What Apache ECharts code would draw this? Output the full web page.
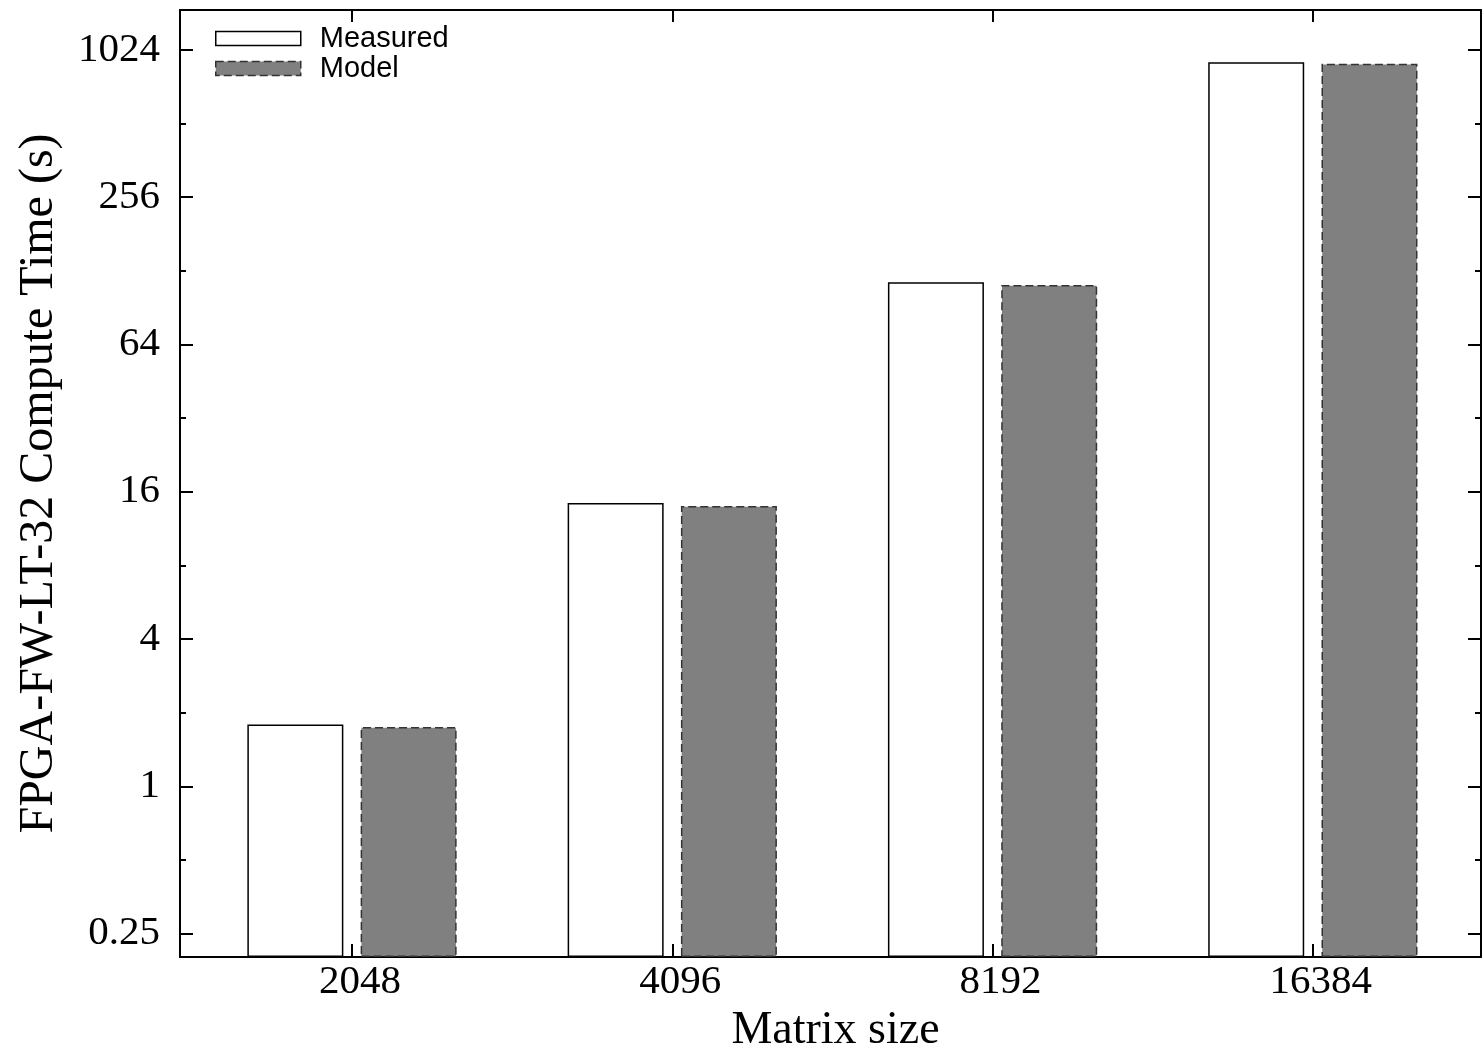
<!DOCTYPE html>
<html><head><meta charset="utf-8">
<script src="https://cdn.jsdelivr.net/npm/echarts@6/dist/echarts.min.js"></script>
<style>html,body{margin:0;padding:0;background:#fff}#c{width:1482px;height:1047px}</style>
</head><body><div id="c"></div>
<script>
const categories = ['2048', '4096', '8192', '16384'];
const measured = [1.79, 14.4, 114.8, 911];
const model = [1.75, 14.0, 111.9, 897];
const yTickLabels = [0.25, 1, 4, 16, 64, 256, 1024];
const yMinorTicks = [0.5, 2, 8, 32, 128, 512];
const xTicks = [0, 1, 2, 3];

const Y_MIN = 0.2007, Y_MAX = 1489;
const serif = 'Liberation Serif';
const black = '#000';

const measuredStyle = { color: '#fff', borderColor: black, borderWidth: 1.5 };
const modelStyle = { color: '#808080', borderColor: '#333', borderWidth: 1.5, borderType: [8, 4] };

function yAxisDef(pos, ticks, len, withLabels) {
  const a = {
    type: 'log', logBase: 2, position: pos, min: Y_MIN, max: Y_MAX, startValue: Y_MIN,
    splitLine: { show: false },
    axisLine: { show: true, onZero: false, lineStyle: { color: black, width: 2 } },
    axisTick: { show: true, inside: true, length: len, lineStyle: { color: black, width: 2 }, customValues: ticks },
    axisLabel: { show: false },
    minorTick: { show: false }
  };
  if (withLabels) {
    a.axisLabel = {
      show: true, customValues: ticks, color: black, fontFamily: serif, fontSize: 41, margin: 20,
      formatter: v => String(v)
    };
    a.name = 'FPGA-FW-LT-32 Compute Time (s)';
    a.nameLocation = 'middle';
    a.nameGap = 117;
    a.nameTextStyle = { color: black, fontFamily: serif, fontSize: 48 };
  }
  return a;
}

const chart = echarts.init(document.getElementById('c'), null, { renderer: 'canvas' });
chart.setOption({
  animation: false,
  backgroundColor: '#fff',
  grid: { left: 180, top: 10, right: 1, bottom: 90, containLabel: false, outerBoundsMode: 'none' },
  legend: {
    orient: 'vertical', left: 215, top: 24, padding: 0, itemWidth: 85, itemHeight: 14, itemGap: 1,
    icon: 'rect',
    data: [
      { name: 'Measured', icon: 'rect', itemStyle: measuredStyle },
      { name: 'Model', icon: 'rect', itemStyle: modelStyle }
    ],
    textStyle: { fontFamily: 'Liberation Sans', fontSize: 29, color: black, lineHeight: 28, padding: [0, 0, 0, 14] }
  },
  xAxis: [
    {
      type: 'value', position: 'bottom', min: -0.537, max: 3.525,
      splitLine: { show: false },
      axisLine: { show: true, onZero: false, lineStyle: { color: black, width: 2 } },
      axisTick: { show: true, inside: true, length: 13, lineStyle: { color: black, width: 2 }, customValues: xTicks },
      axisLabel: {
        show: true, customValues: xTicks, color: black, fontFamily: serif, fontSize: 41, margin: 5,
        padding: [0, 0, 0, 16], formatter: v => categories[Math.round(v)]
      },
      name: 'Matrix size', nameLocation: 'middle', nameGap: 44,
      nameTextStyle: { color: black, fontFamily: serif, fontSize: 46, padding: [0, 0, 0, 10] }
    },
    {
      type: 'value', position: 'top', min: -0.537, max: 3.525,
      splitLine: { show: false },
      axisLine: { show: true, onZero: false, lineStyle: { color: black, width: 2 } },
      axisTick: { show: true, inside: true, length: 12, lineStyle: { color: black, width: 2 }, customValues: xTicks },
      axisLabel: { show: false }
    }
  ],
  yAxis: [
    yAxisDef('left', yTickLabels, 13, true),
    yAxisDef('left', yMinorTicks, 6, false),
    yAxisDef('right', yTickLabels, 13, false),
    yAxisDef('right', yMinorTicks, 6, false)
  ],
  series: [
    {
      name: 'Measured', type: 'bar', xAxisIndex: 0, yAxisIndex: 0,
      barWidth: 96, barGap: '18%',
      data: measured.map((v, i) => [i, v]),
      itemStyle: measuredStyle
    },
    {
      name: 'Model', type: 'bar', xAxisIndex: 0, yAxisIndex: 0,
      barWidth: 96, barGap: '18%',
      data: model.map((v, i) => [i, v]),
      itemStyle: modelStyle
    }
  ]
});
</script></body></html>
